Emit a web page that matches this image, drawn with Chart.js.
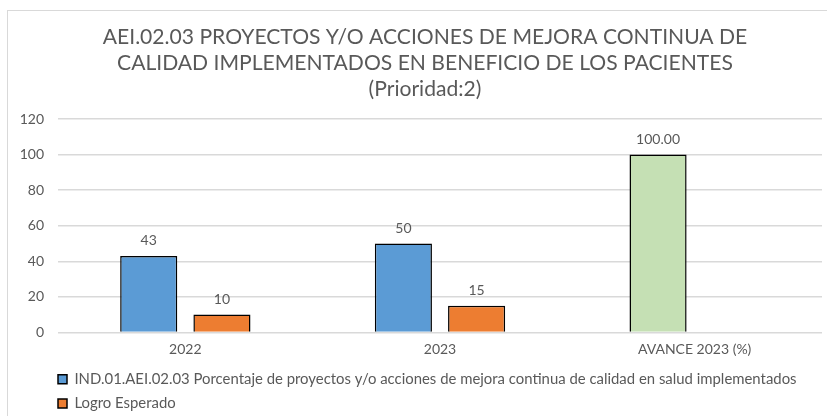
<!DOCTYPE html>
<html>
<head>
<meta charset="utf-8">
<script src="https://cdn.jsdelivr.net/npm/chart.js@4/dist/chart.umd.min.js"></script>
<style>
  html, body { margin: 0; padding: 0; background: #fff; overflow: hidden; }
  #wrap { position: relative; width: 827px; height: 416px; }
  #frame { position: absolute; left: 7px; top: 10px; width: 830px; height: 420px; border-left: 1px solid #d9d9d9; border-top: 1px solid #d9d9d9; }
  canvas { position: absolute; left: 0; top: 0; }
</style>
</head>
<body>
<div id="wrap">
  <div id="frame"></div>
  <canvas id="chart" width="827" height="416"></canvas>
</div>
<script>
// datos del grafico
const categories = ['2022', '2023', 'AVANCE 2023 (%)'];
const indicador = [43, 50, 100];
const logro = [10, 15, null];
const labelDecimals = [0, 0, 2];
const yTicks = [0, 20, 40, 60, 80, 100, 120];

const titleLines = [
    'AEI.02.03 PROYECTOS Y/O ACCIONES DE MEJORA CONTINUA DE',
    'CALIDAD IMPLEMENTADOS EN BENEFICIO DE LOS PACIENTES',
    '(Prioridad:2)'
];
const seriesNames = [
    'IND.01.AEI.02.03 Porcentaje de proyectos y/o acciones de mejora continua de calidad en salud implementados',
    'Logro Esperado'
];

const FONT = "Lato, 'Open Sans', sans-serif";
const GREY = '#595959';
const LEGEND_PAD = 9.5;

// etiquetas encima de las barras
const barLabels = {
    id: 'barLabels',
    afterDatasetsDraw(chart) {
        const ctx = chart.ctx;
        ctx.save();
        ctx.font = '14px ' + FONT;
        ctx.fillStyle = GREY;
        ctx.textAlign = 'center';
        ctx.textBaseline = 'bottom';
        chart.data.datasets.forEach((ds, i) => {
            chart.getDatasetMeta(i).data.forEach((bar, j) => {
                const v = ds.data[j];
                if (v === null || v === undefined) return;
                ctx.fillText(v.toFixed(labelDecimals[j]), bar.x, bar.y - 8);
            });
        });
        ctx.restore();
    }
};

// ajuste fino de titulo y leyenda
const boxShift = {
    id: 'boxShift',
    afterLayout(chart) {
        const lg = chart.legend;
        lg.left -= LEGEND_PAD;
        lg.right -= LEGEND_PAD;
        lg.top -= 5;
        lg.bottom -= 5;
        const tb = chart.titleBlock;
        tb.left += 6.5;
        tb.right += 6.5;
    }
};

new Chart(document.getElementById('chart'), {
    type: 'bar',
    data: {
        labels: categories,
        datasets: [
            {
                label: seriesNames[0],
                data: indicador,
                backgroundColor: (c) => c.dataIndex === 2 ? '#C5E0B4' : '#5B9BD5',
                borderColor: '#000',
                borderWidth: 1.5
            },
            {
                label: seriesNames[1],
                data: logro,
                backgroundColor: '#ED7D31',
                borderColor: '#000',
                borderWidth: 1.5
            }
        ]
    },
    options: {
        responsive: false,
        animation: false,
        categoryPercentage: 0.575,
        barPercentage: 0.78,
        layout: { padding: { left: 15, right: 5, top: 12, bottom: -10 } },
        plugins: {
            title: {
                display: true,
                text: titleLines,
                color: GREY,
                font: { family: FONT, size: 21.1, weight: 'normal', lineHeight: 26 / 21.1 },
                padding: { top: 12, bottom: 17 }
            },
            legend: {
                position: 'bottom',
                align: 'start',
                fullSize: false,
                labels: {
                    color: GREY,
                    font: { family: FONT, size: 14.9 },
                    boxWidth: 9,
                    boxHeight: 9,
                    padding: LEGEND_PAD
                }
            },
            tooltip: { enabled: false }
        },
        scales: {
            x: {
                grid: { display: false, drawTicks: false },
                border: { display: false },
                ticks: { color: GREY, font: { family: FONT, size: 14 }, padding: 9 }
            },
            y: {
                min: 0,
                max: 120,
                afterBuildTicks(scale) { scale.ticks = yTicks.map(v => ({ value: v })); },
                afterFit(scale) { scale.width = 43; },
                grid: { color: '#d9d9d9', lineWidth: 1.5, drawTicks: false },
                border: { display: false },
                ticks: { color: GREY, font: { family: FONT, size: 14 }, padding: 14 }
            }
        }
    },
    plugins: [barLabels, boxShift]
});
</script>
</body>
</html>
